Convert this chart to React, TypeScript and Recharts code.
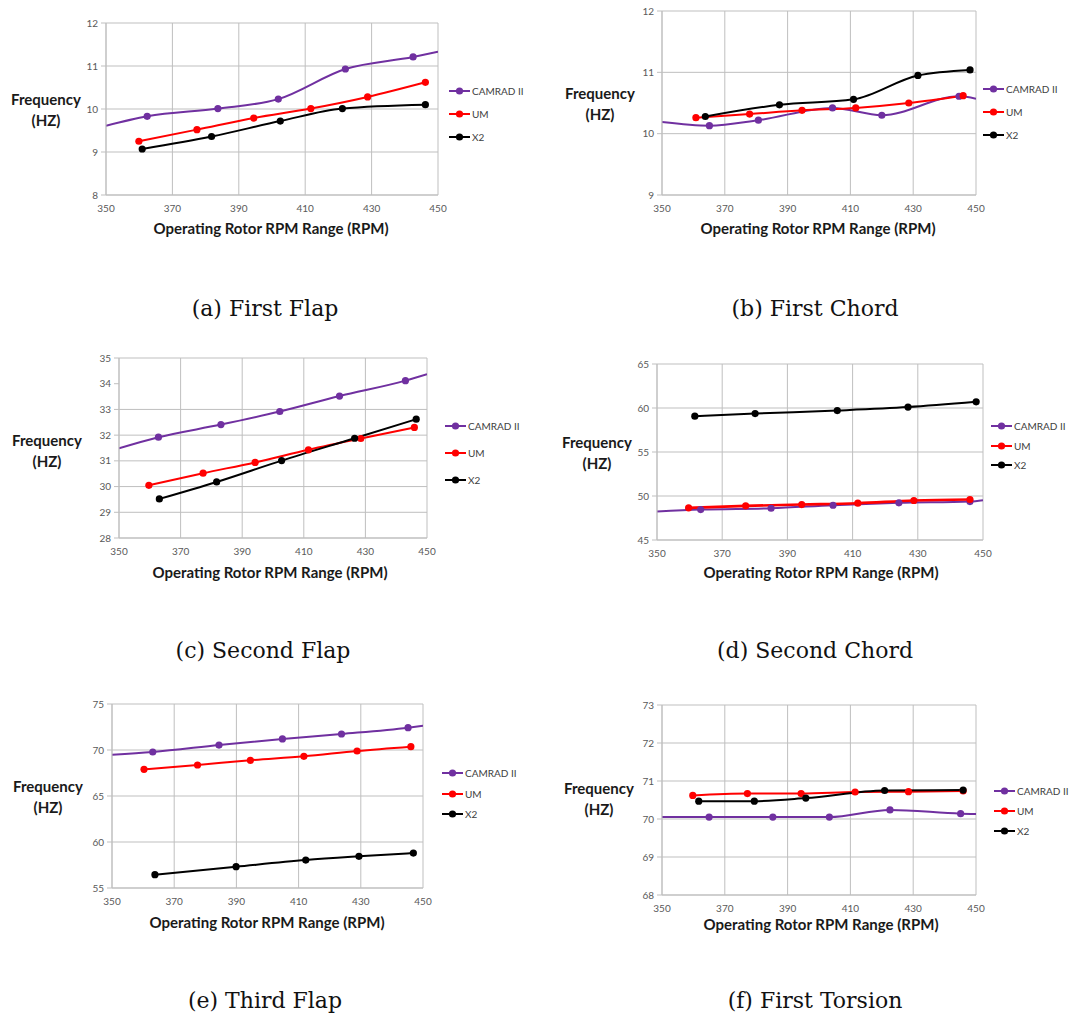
import React from "react";
import { LineChart, Line, XAxis, YAxis, CartesianGrid } from "recharts";

const RPM_TICKS = [350, 370, 390, 410, 430, 450];
const SERIES_NAMES = ["CAMRAD II", "UM", "X2"];
const SERIES_COLORS = ["#7030A0", "#FF0000", "#000000"];
const X_TITLE = "Operating Rotor RPM Range (RPM)";

// (a) First Flap
const flapA_camradRpm = [350, 362.4, 383.7, 401.9, 422.1, 442.5, 450];
const flapA_camradHz = [9.61, 9.83, 10.01, 10.23, 10.93, 11.21, 11.33];
const flapA_umRpm = [359.9, 377.4, 394.5, 411.7, 428.8, 446.2];
const flapA_umHz = [9.25, 9.52, 9.79, 10.01, 10.28, 10.62];
const flapA_x2Rpm = [360.9, 381.8, 402.5, 421.2, 446.2];
const flapA_x2Hz = [9.07, 9.36, 9.72, 10.01, 10.1];

// (b) First Chord
const chordB_camradRpm = [350, 365.1, 380.7, 404.3, 420.0, 444.6, 450];
const chordB_camradHz = [10.19, 10.13, 10.22, 10.42, 10.3, 10.61, 10.57];
const chordB_umRpm = [360.8, 377.9, 394.6, 411.7, 428.6, 445.9];
const chordB_umHz = [10.26, 10.32, 10.38, 10.42, 10.5, 10.62];
const chordB_x2Rpm = [363.8, 387.4, 411.0, 431.5, 448.1];
const chordB_x2Hz = [10.28, 10.47, 10.56, 10.95, 11.04];

// (c) Second Flap
const flapC_camradRpm = [350, 362.8, 383.1, 402.2, 421.6, 443.0, 450];
const flapC_camradHz = [31.49, 31.92, 32.41, 32.92, 33.52, 34.12, 34.37];
const flapC_umRpm = [359.7, 377.3, 394.2, 411.5, 428.5, 445.9];
const flapC_umHz = [30.05, 30.52, 30.94, 31.43, 31.87, 32.3];
const flapC_x2Rpm = [363.1, 381.7, 402.8, 426.5, 446.5];
const flapC_x2Hz = [29.52, 30.18, 31.01, 31.88, 32.62];

// (d) Second Chord
const chordD_camradRpm = [350, 363.4, 385.0, 404.0, 424.2, 446.0, 450];
const chordD_camradHz = [48.23, 48.46, 48.61, 48.95, 49.22, 49.37, 49.52];
const chordD_umRpm = [359.7, 377.2, 394.4, 411.6, 428.8, 446.0];
const chordD_umHz = [48.65, 48.88, 49.03, 49.18, 49.49, 49.6];
const chordD_x2Rpm = [361.6, 380.1, 405.3, 427.0, 447.9];
const chordD_x2Hz = [59.07, 59.37, 59.71, 60.1, 60.7];

// (e) Third Flap
const flapE_camradRpm = [350, 363.1, 384.4, 404.8, 423.8, 445.2, 450];
const flapE_camradHz = [69.49, 69.78, 70.54, 71.2, 71.74, 72.43, 72.64];
const flapE_umRpm = [360.3, 377.5, 394.5, 411.7, 428.8, 446.1];
const flapE_umHz = [67.9, 68.37, 68.88, 69.31, 69.89, 70.36];
const flapE_x2Rpm = [363.8, 389.9, 412.3, 429.4, 446.9];
const flapE_x2Hz = [56.45, 57.32, 58.04, 58.44, 58.8];

// (f) First Torsion
const torsionF_camradRpm = [350, 365.0, 385.3, 403.3, 422.6, 445.1, 450];
const torsionF_camradHz = [70.05, 70.05, 70.05, 70.05, 70.24, 70.14, 70.13];
const torsionF_umRpm = [359.8, 377.2, 394.3, 411.5, 428.5, 445.9];
const torsionF_umHz = [70.62, 70.67, 70.67, 70.71, 70.72, 70.74];
const torsionF_x2Rpm = [361.7, 379.4, 395.8, 420.9, 445.9];
const torsionF_x2Hz = [70.47, 70.47, 70.55, 70.75, 70.76];

type Pt = { x: number; y: number; edge: boolean };

// camrad curves run on to the plot edges: first/last points carry no marker
function pts(rpm: number[], hz: number[], runsToEdges = false): Pt[] {
  return rpm.map((x, i) => ({
    x,
    y: hz[i],
    edge: runsToEdges && (i === 0 || i === rpm.length - 1),
  }));
}

const panels = [
  {
    caption: "(a) First Flap",
    plot: [106, 23, 438, 195],
    domain: [8, 12],
    ticks: [8, 9, 10, 11, 12],
    legend: [449, 91, 23],
    yTitle: [46, 110],
    xTitle: [271, 228],
    cap: [265, 308],
    series: [
      pts(flapA_camradRpm, flapA_camradHz, true),
      pts(flapA_umRpm, flapA_umHz),
      pts(flapA_x2Rpm, flapA_x2Hz),
    ],
  },
  {
    caption: "(b) First Chord",
    plot: [662, 11, 976, 195],
    domain: [9, 12],
    ticks: [9, 10, 11, 12],
    legend: [983, 89, 23],
    yTitle: [600, 104],
    xTitle: [818, 228],
    cap: [815, 308],
    series: [
      pts(chordB_camradRpm, chordB_camradHz, true),
      pts(chordB_umRpm, chordB_umHz),
      pts(chordB_x2Rpm, chordB_x2Hz),
    ],
  },
  {
    caption: "(c) Second Flap",
    plot: [119, 358, 427, 538],
    domain: [28, 35],
    ticks: [28, 29, 30, 31, 32, 33, 34, 35],
    legend: [445, 426, 27],
    yTitle: [47, 451],
    xTitle: [270, 572],
    cap: [263, 650],
    series: [
      pts(flapC_camradRpm, flapC_camradHz, true),
      pts(flapC_umRpm, flapC_umHz),
      pts(flapC_x2Rpm, flapC_x2Hz),
    ],
  },
  {
    caption: "(d) Second Chord",
    plot: [657, 364, 983, 540],
    domain: [45, 65],
    ticks: [45, 50, 55, 60, 65],
    legend: [991, 426, 19.5],
    yTitle: [597, 453],
    xTitle: [821, 572],
    cap: [815, 650],
    series: [
      pts(chordD_camradRpm, chordD_camradHz, true),
      pts(chordD_umRpm, chordD_umHz),
      pts(chordD_x2Rpm, chordD_x2Hz),
    ],
  },
  {
    caption: "(e) Third Flap",
    plot: [112, 704, 423, 888],
    domain: [55, 75],
    ticks: [55, 60, 65, 70, 75],
    legend: [442, 773, 20.5],
    yTitle: [48, 797],
    xTitle: [267, 922],
    cap: [265, 1000],
    series: [
      pts(flapE_camradRpm, flapE_camradHz, true),
      pts(flapE_umRpm, flapE_umHz),
      pts(flapE_x2Rpm, flapE_x2Hz),
    ],
  },
  {
    caption: "(f) First Torsion",
    plot: [662, 705, 976, 895],
    domain: [68, 73],
    ticks: [68, 69, 70, 71, 72, 73],
    legend: [994, 791, 20],
    yTitle: [599, 799],
    xTitle: [821, 924],
    cap: [815, 1000],
    series: [
      pts(torsionF_camradRpm, torsionF_camradHz, true),
      pts(torsionF_umRpm, torsionF_umHz),
      pts(torsionF_x2Rpm, torsionF_x2Hz),
    ],
  },
];

const GRID = "#BFBFBF";
const tickStyle = { fontSize: 10, fill: "#595959", fontFamily: "Lato" };

function Centered({ x, y, style, children }: any) {
  return (
    <div
      style={{
        position: "absolute",
        left: x,
        top: y,
        transform: "translate(-50%, -50%)",
        whiteSpace: "nowrap",
        ...style,
      }}
    >
      {children}
    </div>
  );
}

function Panel({ p }: { p: (typeof panels)[number] }) {
  const [x0, y0, x1, y1] = p.plot;
  const YW = 34;
  const XH = 26;
  const MT = 6;
  const MR = 16;
  const titleStyle = {
    fontFamily: "Lato",
    fontWeight: 700,
    fontSize: 15,
    color: "#1a1a1a",
  };
  const [lx, ly, gap] = p.legend;

  return (
    <>
      <div style={{ position: "absolute", left: x0 - YW, top: y0 - MT }}>
        <LineChart
          width={x1 - x0 + YW + MR}
          height={y1 - y0 + MT + XH}
          margin={{ top: MT, right: MR, left: 0, bottom: 0 }}
        >
          <CartesianGrid stroke={GRID} strokeWidth={1} />
          <XAxis
            type="number"
            dataKey="x"
            domain={[350, 450]}
            ticks={RPM_TICKS}
            allowDataOverflow
            height={XH}
            tickSize={0}
            tickMargin={10}
            tick={tickStyle}
            axisLine={{ stroke: GRID }}
          />
          <YAxis
            type="number"
            dataKey="y"
            domain={p.domain}
            ticks={p.ticks}
            allowDataOverflow
            width={YW}
            tickSize={5}
            tickMargin={3}
            tick={tickStyle}
            tickLine={{ stroke: GRID }}
            axisLine={{ stroke: GRID }}
          />
          {p.series.map((data, si) => (
            <Line
              key={SERIES_NAMES[si]}
              data={data}
              dataKey="y"
              type="monotone"
              stroke={SERIES_COLORS[si]}
              strokeWidth={si === 1 && p.caption.startsWith("(d)") ? 2.6 : 2}
              isAnimationActive={false}
              dot={(d: any) =>
                d.payload.edge ? (
                  <g key={`e${si}-${d.index}`} />
                ) : (
                  <circle
                    key={`d${si}-${d.index}`}
                    cx={d.cx}
                    cy={d.cy}
                    r={3.6}
                    fill={SERIES_COLORS[si]}
                    stroke="none"
                  />
                )
              }
            />
          ))}
        </LineChart>
      </div>

      {SERIES_NAMES.map((name, i) => (
        <div
          key={name}
          style={{
            position: "absolute",
            left: lx,
            top: ly + i * gap - 7,
            height: 14,
            display: "flex",
            alignItems: "center",
          }}
        >
          <svg width={22} height={14}>
            <line x1={0} y1={7} x2={21} y2={7} stroke={SERIES_COLORS[i]} strokeWidth={2} />
            <circle cx={10.5} cy={7} r={3.6} fill={SERIES_COLORS[i]} />
          </svg>
          <span
            style={{
              fontFamily: "Lato",
              fontSize: 10,
              color: "#404040",
              marginLeft: 1,
            }}
          >
            {name}
          </span>
        </div>
      ))}

      <Centered x={p.yTitle[0]} y={p.yTitle[1]} style={{ ...titleStyle, textAlign: "center", lineHeight: "21px" }}>
        Frequency
        <br />
        (HZ)
      </Centered>
      <Centered x={p.xTitle[0]} y={p.xTitle[1]} style={titleStyle}>
        {X_TITLE}
      </Centered>
      <Centered
        x={p.cap[0]}
        y={p.cap[1]}
        style={{ fontFamily: "DejaVu Serif", fontSize: 22, color: "#111" }}
      >
        {p.caption}
      </Centered>
    </>
  );
}

export default function App() {
  return (
    <div
      style={{
        position: "absolute",
        left: 0,
        top: 0,
        width: 1073,
        height: 1017,
        background: "#fff",
        overflow: "hidden",
      }}
    >
      {panels.map((p) => (
        <Panel key={p.caption} p={p} />
      ))}
    </div>
  );
}
